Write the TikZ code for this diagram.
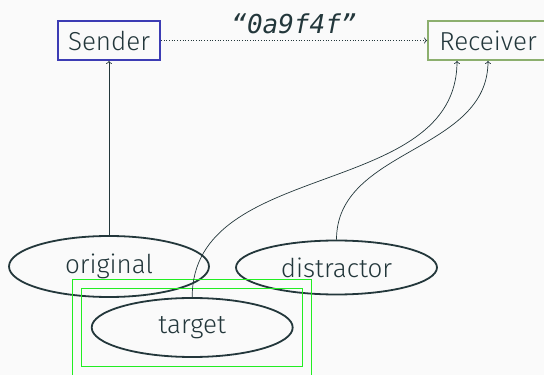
\documentclass[tikz,border=0pt]{standalone}
\usepackage{fontspec}
\setmainfont{Fira Sans Light}
\newfontfamily\codefont{DejaVu Sans Mono}
\usetikzlibrary{shapes.geometric,calc,fit,arrows.meta}
\definecolor{teal}{HTML}{23373B}
\definecolor{bgc}{HTML}{FAFAFA}
\definecolor{sendblue}{HTML}{3C3CB4}
\definecolor{recgreen}{HTML}{8CAF6E}
\definecolor{fitgreen}{HTML}{22EE22}
\begin{document}
\begin{tikzpicture}[x=1pt,y=1pt,
  every node/.style={text=teal,font=\fontsize{26}{31}\selectfont},
  agent/.style={draw,line width=1.8pt,rectangle,inner sep=0pt,minimum height=39pt},
  blob/.style={draw=teal,ellipse,line width=1.8pt,inner sep=0pt},
  conn/.style={draw=teal,line width=0.7pt,-{To[length=3pt,width=6pt]}},
  fitbox/.style={draw=fitgreen,line width=1.1pt,rectangle}
]
\useasboundingbox[fill=bgc] (0,0) rectangle (544,375);
\node[agent,draw=sendblue,minimum width=102pt] (sender) at (109,334.5) {Sender};
\node[agent,draw=recgreen,minimum width=120pt] (receiver) at (488,334.5) {Receiver};
\node[blob,minimum width=200pt,minimum height=61pt] (original) at (109,108.5) {original};
\node[blob,minimum width=201pt,minimum height=54pt] (distractor) at (336.5,107.5) {distractor};
\node[blob,minimum width=201pt,minimum height=59pt] (target) at (192.2,47.5) {target};
\node[fitbox,fit=(target),inner sep=9pt] (fitin) {};
\node[fitbox,fit=(target),inner sep=18pt] (fitout) {};
\coordinate (recA) at ($(receiver.south)+(-31,0)$);
\coordinate (recB) at (receiver.south);
\draw[conn] (original.north) -- (sender.south);
\draw[conn,dotted] (sender.east) -- node[above=3pt,font={\fontsize{26}{31}\selectfont\codefont\itshape}] (msg) {“0a9f4f”} (receiver.west);
\draw[conn] (target.north) to[out=90,in=-90] (recA);
\draw[conn] (distractor.north) to[out=90,in=-90] (recB);
\end{tikzpicture}
\end{document}
